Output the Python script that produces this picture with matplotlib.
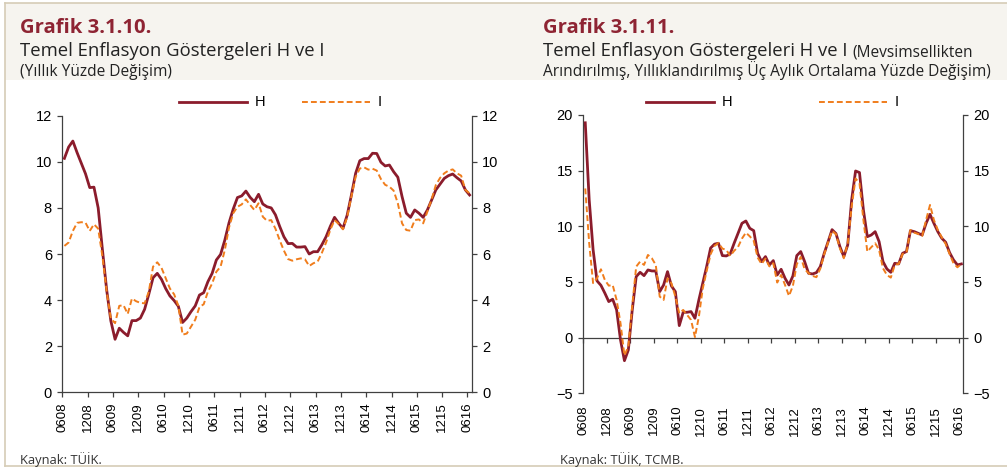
import numpy as np
import matplotlib
matplotlib.use("Agg")
import matplotlib.pyplot as plt
from matplotlib.lines import Line2D
from matplotlib.patches import Rectangle

# ---------------- data (monthly, 2008-06 .. 2016-06) ----------------
tick_labels = ['0608', '1208', '0609', '1209', '0610', '1210', '0611', '1211',
               '0612', '1212', '0613', '1213', '0614', '1214', '0615', '1215', '0616']

h_annual = [10.15, 10.64, 10.9, 10.4, 9.94, 9.48, 8.88, 8.9, 8.0, 6.2,
            4.46, 3.1, 2.3, 2.78, 2.6, 2.45, 3.11, 3.11, 3.22, 3.6,
            4.26, 4.97, 5.16, 4.9, 4.5, 4.18, 3.98, 3.73, 3.03, 3.22,
            3.5, 3.75, 4.22, 4.32, 4.8, 5.16, 5.74, 5.98, 6.6, 7.35,
            7.95, 8.45, 8.52, 8.73, 8.46, 8.27, 8.59, 8.17, 8.05, 8.0,
            7.7, 7.2, 6.75, 6.45, 6.46, 6.3, 6.3, 6.32, 6.0, 6.1,
            6.1, 6.4, 6.75, 7.2, 7.59, 7.33, 7.11, 7.69, 8.56, 9.5,
            10.05, 10.14, 10.14, 10.37, 10.36, 9.98, 9.82, 9.86, 9.57, 9.33,
            8.49, 7.77, 7.59, 7.91, 7.77, 7.59, 7.91, 8.34, 8.78, 9.03,
            9.28, 9.4, 9.47, 9.31, 9.17, 8.78, 8.56]

i_annual = [6.35, 6.5, 7.0, 7.35, 7.38, 7.36, 7.0, 7.29, 7.1, 5.9,
            4.4, 3.2, 3.0, 3.75, 3.78, 3.4, 4.07, 3.95, 3.88, 3.86,
            4.37, 5.45, 5.64, 5.4, 4.95, 4.5, 4.25, 3.75, 2.5, 2.55,
            2.85, 3.15, 3.7, 3.82, 4.36, 4.72, 5.23, 5.45, 6.17, 7.15,
            7.77, 8.05, 8.15, 8.37, 8.13, 7.91, 8.2, 7.62, 7.44, 7.47,
            7.1, 6.6, 6.15, 5.78, 5.71, 5.77, 5.81, 5.77, 5.48, 5.6,
            5.67, 6.05, 6.5, 7.05, 7.47, 7.3, 7.07, 7.6, 8.5, 9.35,
            9.71, 9.76, 9.66, 9.7, 9.62, 9.25, 9.0, 8.92, 8.75, 8.2,
            7.33, 7.04, 7.01, 7.47, 7.5, 7.33, 7.84, 8.37, 8.99, 9.3,
            9.5, 9.62, 9.67, 9.5, 9.4, 8.78, 8.63]

h_sa = [19.3, 12.4, 7.9, 5.1, 4.7, 4.0, 3.24, 3.45, 2.5, -0.2,
        -2.07, -1.1, 2.5, 5.48, 5.87, 5.57, 6.08, 5.99, 5.99, 4.13,
        4.73, 5.93, 4.64, 4.13, 1.08, 2.28, 2.28, 2.34, 1.74, 3.39,
        4.9, 6.4, 8.05, 8.4, 8.48, 7.37, 7.34, 7.52, 8.48, 9.37,
        10.27, 10.48, 9.82, 9.61, 7.58, 6.83, 7.28, 6.53, 6.92, 5.63,
        6.14, 5.33, 4.73, 5.54, 7.37, 7.73, 6.83, 5.78, 5.72, 5.84,
        6.38, 7.58, 8.63, 9.7, 9.35, 8.18, 7.28, 8.33, 12.37, 14.97,
        14.83, 11.47, 9.07, 9.22, 9.52, 8.63, 6.83, 6.17, 5.87, 6.68,
        6.62, 7.58, 7.73, 9.61, 9.52, 9.37, 9.22, 10.27, 11.08, 10.27,
        9.52, 8.93, 8.57, 7.64, 6.98, 6.53, 6.62]

i_sa = [13.4, 8.5, 4.9, 5.33, 6.14, 5.18, 4.67, 4.73, 3.39, 1.29,
        -1.6, -0.8, 2.9, 6.38, 6.83, 6.53, 7.43, 7.13, 6.53, 3.69,
        3.39, 5.33, 4.88, 3.69, 2.19, 2.49, 2.04, 1.59, 0.05, 1.89,
        4.43, 6.0, 7.5, 8.25, 8.5, 8.0, 7.88, 7.34, 7.8, 8.15,
        8.9, 9.43, 9.1, 8.7, 7.2, 6.62, 7.1, 6.4, 6.68, 4.95,
        5.63, 4.73, 3.75, 4.65, 6.6, 7.25, 6.15, 5.8, 5.55, 5.43,
        6.2, 7.5, 8.58, 9.6, 9.3, 8.03, 7.13, 8.48, 11.77, 14.3,
        13.87, 10.57, 7.73, 8.12, 8.48, 7.88, 6.23, 5.63, 5.39, 6.53,
        6.62, 7.52, 7.64, 9.67, 9.43, 9.31, 9.13, 10.57, 11.92, 10.57,
        9.67, 9.01, 8.42, 7.52, 6.68, 6.32, 6.62]

# ---------------- style ----------------
H_COLOR = '#8B1C2C'
I_COLOR = '#F07D1C'
TITLE_COLOR = '#8E2433'
AXIS_COLOR = '#404040'
BAND = '#F6F4EF'
BORDER = '#D6CCB6'
TEXT_FONT = ['Open Sans', 'DejaVu Sans']
NUM_FONT = ['Liberation Sans', 'DejaVu Sans']

W, Hpx = 1007, 471
fig = plt.figure(figsize=(W / 100, Hpx / 100), dpi=100)
fig.patch.set_facecolor('white')


def fx(px):
    return px / W


def fy(py):
    return 1 - py / Hpx


# header band and frame
fig.patches.append(Rectangle((fx(5), fy(80)), fx(W - 5), (80 - 3) / Hpx,
                             transform=fig.transFigure, facecolor=BAND,
                             edgecolor='none', zorder=0))
fig.add_artist(Line2D([fx(5), fx(W)], [fy(3), fy(3)], color=BORDER, lw=1.2))
fig.add_artist(Line2D([fx(5), fx(5)], [fy(3), fy(466)], color=BORDER, lw=1.2))
fig.add_artist(Line2D([fx(5), fx(W)], [fy(466), fy(466)], color=BORDER, lw=1.2))

# titles
fig.text(fx(20), fy(33), 'Grafik 3.1.10.', fontsize=14.6, fontweight='bold',
         color=TITLE_COLOR, family=TEXT_FONT, va='baseline')
fig.text(fx(20), fy(56.5), 'Temel Enflasyon Göstergeleri H ve I', fontsize=13.3,
         color='#222222', family=TEXT_FONT, va='baseline')
fig.text(fx(20), fy(76.5), '(Yıllık Yüzde Değişim)', fontsize=11.2,
         color='#222222', family=TEXT_FONT, va='baseline')

fig.text(fx(543), fy(33), 'Grafik 3.1.11.', fontsize=14.6, fontweight='bold',
         color=TITLE_COLOR, family=TEXT_FONT, va='baseline')
fig.text(fx(543), fy(56.5), 'Temel Enflasyon Göstergeleri H ve I', fontsize=13.3,
         color='#222222', family=TEXT_FONT, va='baseline')
fig.text(fx(852), fy(56.5), '(Mevsimsellikten', fontsize=11.2,
         color='#222222', family=TEXT_FONT, va='baseline')
fig.text(fx(543), fy(76.5),
         'Arındırılmış, Yıllıklandırılmış Üç Aylık Ortalama Yüzde Değişim)',
         fontsize=11.2, color='#222222', family=TEXT_FONT, va='baseline')

# sources
fig.text(fx(20), fy(464), 'Kaynak: TÜİK.', fontsize=9.3, color='#333333',
         family=TEXT_FONT, va='baseline')
fig.text(fx(560), fy(464), 'Kaynak: TÜİK, TCMB.', fontsize=9.3, color='#333333',
         family=TEXT_FONT, va='baseline')


def legend(x_h, x_i, y):
    fig.add_artist(Line2D([fx(x_h), fx(x_h + 68)], [fy(y), fy(y)],
                          color=H_COLOR, lw=2.0))
    fig.text(fx(x_h + 76), fy(y), 'H', fontsize=10.5, family=NUM_FONT,
             va='center', ha='left')
    fig.add_artist(Line2D([fx(x_i), fx(x_i + 68)], [fy(y), fy(y)],
                          color=I_COLOR, lw=1.4, ls=(0, (3, 1.6))))
    fig.text(fx(x_i + 76), fy(y), 'I', fontsize=10.5, family=NUM_FONT,
             va='center', ha='left')


legend(179, 302, 101.5)
legend(646, 819, 101.5)

months = np.arange(len(h_annual)) + 0.5
tick_pos = np.arange(0, 97, 6)


def style_axes(ax):
    ax.spines['top'].set_visible(False)
    for s in ('left', 'right', 'bottom'):
        ax.spines[s].set_color(AXIS_COLOR)
        ax.spines[s].set_linewidth(0.9)
    ax.tick_params(axis='y', which='both', left=True, right=True,
                   labelleft=True, labelright=True, direction='out',
                   length=3.5, width=0.9, color=AXIS_COLOR, labelsize=10.5,
                   pad=4)
    for lab in ax.get_yticklabels():
        lab.set_family(NUM_FONT)


# ---------------- left chart ----------------
ax1 = fig.add_axes([fx(62.3), 1 - 392.3 / Hpx, 409.4 / W, 276.6 / Hpx])
ax1.plot(months, h_annual, color=H_COLOR, lw=2.0, zorder=3)
ax1.plot(months, i_annual, color=I_COLOR, lw=1.4, ls=(0, (3, 1.6)), zorder=4)
ax1.set_xlim(0, 97)
ax1.set_ylim(0, 12)
ax1.set_yticks(np.arange(0, 13, 2))
ax1.set_xticks(tick_pos)
ax1.set_xticklabels(tick_labels, rotation=90, fontsize=9.5, family=NUM_FONT)
style_axes(ax1)
ax1.tick_params(axis='x', direction='out', length=3.5, width=0.9,
                color=AXIS_COLOR, pad=4)

# ---------------- right chart ----------------
ax2 = fig.add_axes([fx(583.3), 1 - 393.3 / Hpx, 380 / W, 278.3 / Hpx])
ax2.plot(months, h_sa, color=H_COLOR, lw=2.0, zorder=3)
ax2.plot(months, i_sa, color=I_COLOR, lw=1.4, ls=(0, (3, 1.6)), zorder=4)
ax2.set_xlim(0, 97)
ax2.set_ylim(-5, 20)
ax2.set_yticks(np.arange(-5, 21, 5))
ax2.spines['bottom'].set_position(('data', 0))
ax2.set_xticks(tick_pos)
ax2.tick_params(axis='x', direction='out', length=3.5, width=0.9,
                color=AXIS_COLOR, labelbottom=False)
style_axes(ax2)
sec = ax2.secondary_xaxis('bottom')
sec.set_xticks(tick_pos)
sec.set_xticklabels(tick_labels, rotation=90, fontsize=9.5, family=NUM_FONT)
sec.tick_params(length=0, pad=9)
sec.spines['bottom'].set_visible(False)

fig.savefig('out.png', dpi=100, facecolor='white')
